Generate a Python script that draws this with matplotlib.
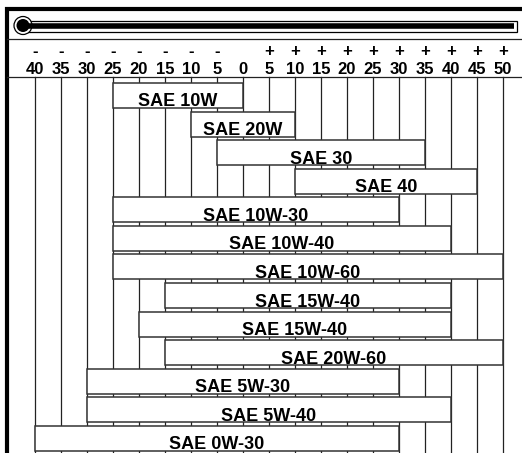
import numpy as np
import matplotlib.pyplot as plt
from matplotlib.patches import Rectangle, Circle

#%% datos: grados de temperatura y rango de cada aceite
temps = [-40, -35, -30, -25, -20, -15, -10, -5, 0, 5, 10, 15, 20, 25, 30, 35, 40, 45, 50]
aceites = ["SAE 10W", "SAE 20W", "SAE 30", "SAE 40", "SAE 10W-30", "SAE 10W-40",
           "SAE 10W-60", "SAE 15W-40", "SAE 15W-40", "SAE 20W-60", "SAE 5W-30",
           "SAE 5W-40", "SAE 0W-30"]
t_min = [-25, -10, -5, 10, -25, -25, -25, -15, -20, -15, -30, -30, -40]
t_max = [0, 10, 35, 45, 30, 40, 50, 40, 40, 50, 30, 40, 30]

W, H = 522, 453
fig = plt.figure(figsize=(W / 100, H / 100), dpi=100)

#%% ejes de decoracion en pixeles
deco = fig.add_axes([0, 0, 1, 1])
deco.set_xlim(0, W)
deco.set_ylim(H, 0)
deco.axis("off")

# marco
deco.plot([7, 7], [7, H], color="black", lw=3, solid_capstyle="butt")
deco.plot([5, W], [9, 9], color="black", lw=3, solid_capstyle="butt")
deco.plot([7, W], [39, 39], color="#222222", lw=0.9)
deco.plot([7, W], [77, 77], color="#222222", lw=0.9)

# termometro
deco.add_patch(Rectangle((24, 20.5), 493, 11, facecolor="white", edgecolor="black", lw=0.9))
deco.plot([24, 514], [25.5, 25.5], color="black", lw=4, solid_capstyle="butt")
deco.add_patch(Circle((23, 25.5), 9, facecolor="white", edgecolor="black", lw=0.9))
deco.add_patch(Circle((23, 25.5), 6.5, facecolor="black", edgecolor="none"))

#%% ejes de datos: x en grados, y en filas
ax = fig.add_axes([0, 0, 1, 1])
ax.patch.set_alpha(0)
x0 = -40 - 35 * 5 / 26
x1 = -40 + (W - 35) * 5 / 26
paso = 28.58
ax.set_xlim(x0, x1)
ax.set_ylim((H - 83) / paso, -83 / paso)
ax.axis("off")

y_linea = -(83 - 77) / paso
for t in temps:
    ax.plot([t, t], [y_linea, 20], color="#222222", lw=0.9, zorder=1)
    ax.text(t, -(83 - 74) / paso, str(abs(t)), ha="center", va="baseline",
            fontsize=12, fontweight="bold", family="Liberation Sans")
    if t != 0:
        signo = "-" if t < 0 else "+"
        ax.text(t, -(83 - 51.5) / paso, signo, ha="center", va="center",
                fontsize=12, fontweight="bold", family="Liberation Sans")

alto = 25 / paso
for i, (nombre, a, b) in enumerate(zip(aceites, t_min, t_max)):
    ax.add_patch(Rectangle((a, i), b - a, alto, facecolor="white",
                           edgecolor="#333333", lw=1.1, zorder=2))
    ax.text((a + b) / 2, i + alto - 1.5 / paso, nombre, ha="center", va="baseline",
            fontsize=13, fontweight="bold", family="Liberation Sans", zorder=3)

fig.savefig("out.png", dpi=100)
